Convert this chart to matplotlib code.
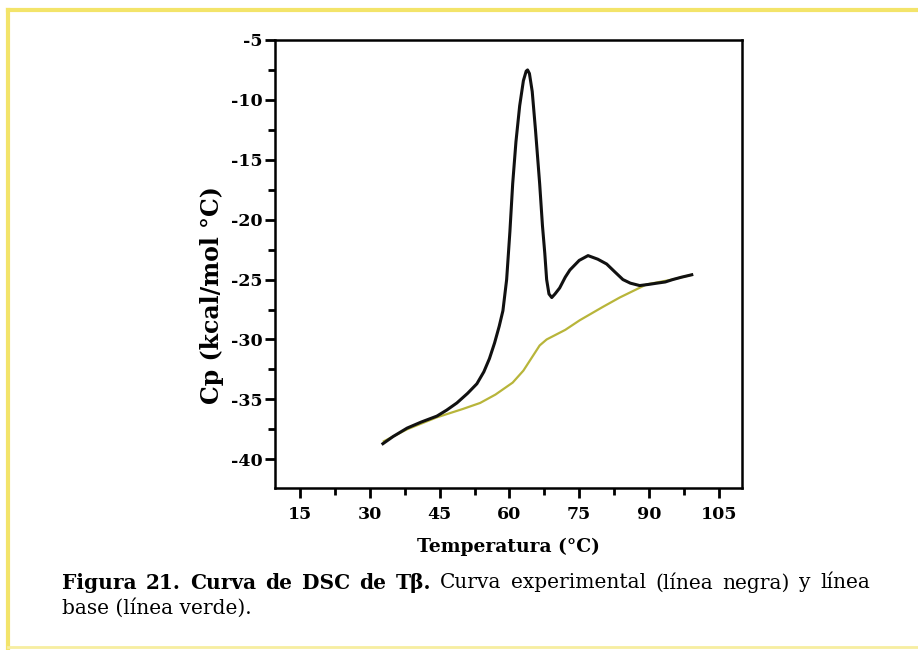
import matplotlib
matplotlib.use("Agg")
import matplotlib.pyplot as plt
from matplotlib.ticker import MultipleLocator
from matplotlib.lines import Line2D

plt.rcParams['axes.unicode_minus'] = False

# Experimental curve (black)
temp_exp = [32.8, 35, 38, 41, 44.4, 46.5, 48.7, 51, 53, 54.5, 55.7, 56.8, 57.8, 58.6,
            59.4, 60.1, 60.7, 61.4, 62.2, 63.0, 63.6, 63.9, 64.3, 64.9, 65.6, 66.5,
            67.1, 67.6, 68.0, 68.5, 69.1, 69.8, 70.8, 72, 73, 75, 76.9, 79, 80.9,
            82.5, 84.4, 86, 88, 90, 91.7, 93.5, 95.1, 97, 99.2]
cp_exp = [-38.7, -38.1, -37.4, -36.9, -36.4, -35.9, -35.3, -34.5, -33.7, -32.7, -31.6,
          -30.3, -28.9, -27.6, -25.0, -21.0, -17.0, -13.5, -10.5, -8.4, -7.6, -7.5,
          -7.8, -9.3, -12.5, -17.0, -20.5, -22.8, -25.0, -26.2, -26.5, -26.2, -25.7,
          -24.8, -24.2, -23.4, -23.0, -23.3, -23.7, -24.3, -25.0, -25.3, -25.5,
          -25.4, -25.3, -25.2, -25.0, -24.8, -24.6]

# Baseline (green)
temp_base = [33, 38, 44.4, 50, 53.7, 57, 60.7, 63, 65, 66.5, 68, 72, 75.1, 80, 83.7,
             89.5, 95, 99.2]
cp_base = [-38.5, -37.5, -36.5, -35.8, -35.3, -34.6, -33.6, -32.6, -31.4, -30.5,
           -30.0, -29.2, -28.4, -27.3, -26.5, -25.4, -25.0, -24.6]

x_ticks = [15, 30, 45, 60, 75, 90, 105]
y_ticks = [-5, -10, -15, -20, -25, -30, -35, -40]

caption_bold = ['Figura', '21.', 'Curva', 'de', 'DSC', 'de', 'Tβ.']
caption_line1 = ['Curva', 'experimental', '(línea', 'negra)', 'y', 'línea']
caption_line2 = 'base (línea verde).'

fig = plt.figure(figsize=(9.18, 6.5), dpi=100)
ax = fig.add_axes([275/918, 1-488/650, (742-275)/918, (488-40)/650])

ax.plot(temp_base, cp_base, color='#b8b53a', lw=1.6, zorder=2)
ax.plot(temp_exp, cp_exp, color='#111111', lw=2.2, zorder=3)

ax.set_xlim(9.6, 110)
ax.set_ylim(-42.4, -5)
ax.set_xticks(x_ticks)
ax.set_yticks(y_ticks)
ax.xaxis.set_minor_locator(MultipleLocator(7.5))
ax.yaxis.set_minor_locator(MultipleLocator(2.5))
ax.tick_params(which='major', direction='out', length=7, width=2)
ax.tick_params(which='minor', direction='out', length=5, width=2)
for s in ax.spines.values():
    s.set_linewidth(1.8)

for lab in ax.get_xticklabels() + ax.get_yticklabels():
    lab.set_fontfamily('DejaVu Serif')
    lab.set_fontweight('bold')
    lab.set_fontsize(12.5)
ax.tick_params(axis='x', pad=6)
ax.tick_params(axis='y', pad=2)

ax.set_xlabel('Temperatura (°C)', fontfamily='DejaVu Serif', fontweight='bold',
              fontsize=13.5)
ax.xaxis.set_label_coords(0.5, -0.112)
ax.set_ylabel('Cp (kcal/mol °C)', fontfamily='DejaVu Serif', fontweight='bold',
              fontsize=17)
ax.yaxis.set_label_coords(-0.11, 0.43)

# Caption, line 1 justified between x=62 and x=870
fig.canvas.draw()
renderer = fig.canvas.get_renderer()
y1 = 1 - 583/650
items = []
for w in caption_bold:
    t = fig.text(0, y1, w, fontfamily='DejaVu Serif', fontweight='bold', fontsize=14.5,
                 va='center', ha='left')
    items.append(t)
for w in caption_line1:
    t = fig.text(0, y1, w, fontfamily='DejaVu Serif', fontsize=14.5,
                 va='center', ha='left')
    items.append(t)
widths = [t.get_window_extent(renderer).width for t in items]
x_left, x_right = 62.0, 870.0
gap = (x_right - x_left - sum(widths)) / (len(items) - 1)
x = x_left
for t, w in zip(items, widths):
    t.set_x(x / 918)
    x += w + gap
fig.text(62/918, 1-608/650, caption_line2, fontfamily='DejaVu Serif', fontsize=14.5,
         va='center', ha='left')

# Yellow frame lines
fig.add_artist(Line2D([8/918, 1], [1-10/650, 1-10/650], color='#f3e46a', lw=3,
                      transform=fig.transFigure))
fig.add_artist(Line2D([8/918, 8/918], [0, 1-10/650], color='#f3e46a', lw=3,
                      transform=fig.transFigure))
fig.add_artist(Line2D([8/918, 1], [1-647/650, 1-647/650], color='#f7eea0', lw=2,
                      transform=fig.transFigure))

fig.savefig('out.png', dpi=100)
